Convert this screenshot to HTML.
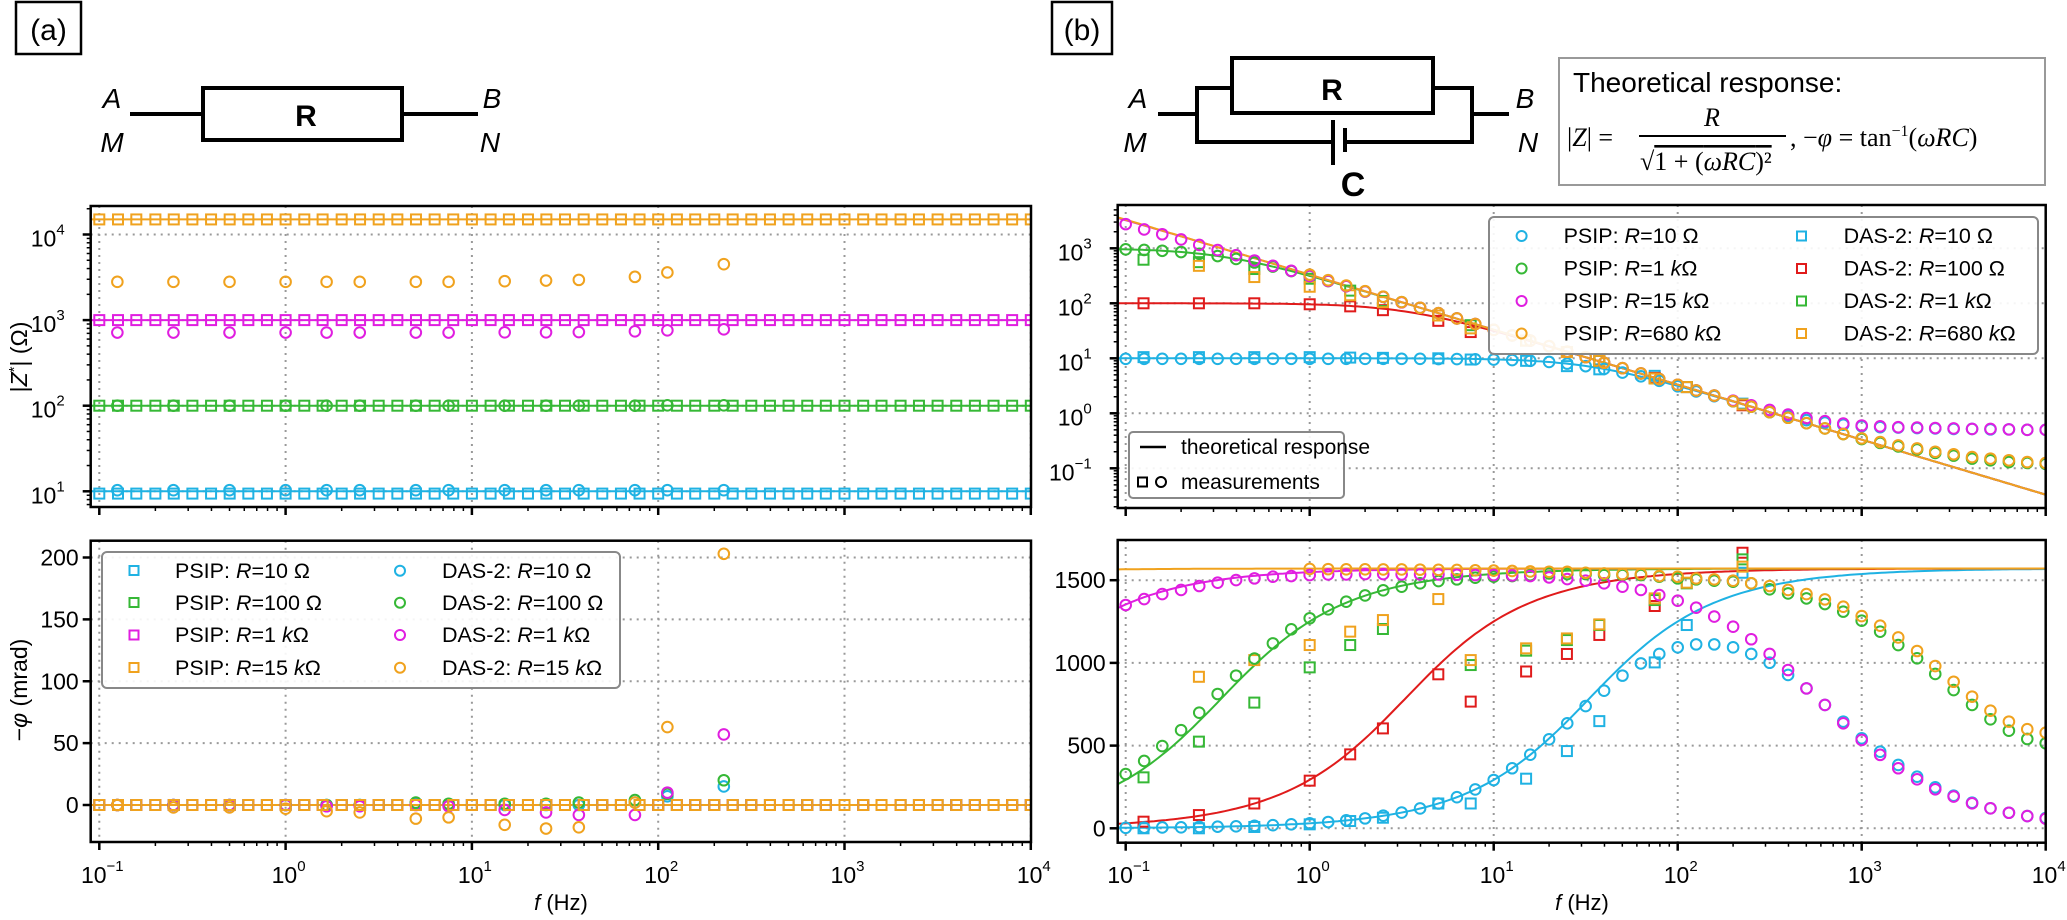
<!DOCTYPE html>
<html><head><meta charset="utf-8">
<style>
html,body{margin:0;padding:0;background:#fff;}
svg{display:block;font-family:"Liberation Sans",sans-serif;}
.serif{font-family:"Liberation Serif",serif;}
</style></head>
<body>
<svg id="fig" width="2067" height="920" viewBox="0 0 2067 920" xmlns="http://www.w3.org/2000/svg">
<defs>
<clipPath id="clipAm"><rect x="90.7" y="206" width="940.3" height="301"/></clipPath>
<clipPath id="clipAp"><rect x="90.7" y="540.7" width="940.3" height="301.3"/></clipPath>
<clipPath id="clipBm"><rect x="1117.7" y="205" width="928" height="303"/></clipPath>
<clipPath id="clipBp"><rect x="1117.7" y="540" width="928" height="302.7"/></clipPath>
</defs>

<g stroke="#000" stroke-width="4" fill="none">
  <rect x="16" y="2" width="65" height="52" stroke-width="2.5"/>
  <line x1="130" y1="114" x2="203" y2="114"/>
  <rect x="203" y="88" width="199" height="52"/>
  <line x1="402" y1="114" x2="478" y2="114"/>
</g>
<text x="48.5" y="40" font-size="30" text-anchor="middle">(a)</text>
<g font-size="28" font-style="italic" text-anchor="middle">
  <text x="112" y="108">A</text><text x="112" y="152">M</text>
  <text x="492" y="108">B</text><text x="490" y="152">N</text>
</g>
<text x="306" y="126" font-size="30" font-weight="bold" text-anchor="middle">R</text>

<g stroke="#000" stroke-width="4" fill="none">
  <rect x="1052" y="2" width="60" height="52" stroke-width="2.5"/>
  <line x1="1158" y1="114" x2="1197" y2="114"/>
  <polyline points="1232,88 1197,88 1197,142 1333,142"/>
  <rect x="1232" y="58" width="201" height="55"/>
  <polyline points="1433,88 1472,88 1472,142 1345,142"/>
  <line x1="1472" y1="114" x2="1509" y2="114"/>
  <line x1="1333" y1="120" x2="1333" y2="165"/>
  <line x1="1345" y1="128" x2="1345" y2="152"/>
  <rect x="1559" y="58" width="486" height="127" stroke="#999" stroke-width="2"/>
</g>
<text x="1082" y="40" font-size="30" text-anchor="middle">(b)</text>
<g font-size="28" font-style="italic" text-anchor="middle">
  <text x="1138" y="108">A</text><text x="1135" y="152">M</text>
  <text x="1525" y="108">B</text><text x="1528" y="152">N</text>
</g>
<text x="1332" y="100" font-size="30" font-weight="bold" text-anchor="middle">R</text>
<text x="1353" y="196" font-size="34" font-weight="bold" text-anchor="middle">C</text>
<text x="1573" y="92" font-size="28">Theoretical response:</text>
<g class="serif" font-size="26">
  <text x="1567" y="146">|<tspan font-style="italic">Z</tspan>| =</text>
  <text x="1712" y="126" text-anchor="middle" font-style="italic">R</text>
  <line x1="1639" y1="136" x2="1786" y2="136" stroke="#000" stroke-width="2"/>
  <text x="1640" y="170">√<tspan text-decoration="overline">1 + (<tspan font-style="italic">ωRC</tspan>)²</tspan></text>
  <text x="1790" y="146">, −<tspan font-style="italic">φ</tspan> = tan<tspan font-size="16" dy="-10">−1</tspan><tspan dy="10">(<tspan font-style="italic">ωRC</tspan>)</tspan></text>
</g>

<g id="axes"></g>
<g id="data"></g>

<text transform="translate(27,357) rotate(-90)" font-size="23" text-anchor="middle">|<tspan font-style="italic">Z</tspan><tspan font-size="15" dy="-8">*</tspan><tspan dy="8">| (Ω)</tspan></text>
<text transform="translate(27,690) rotate(-90)" font-size="23" text-anchor="middle">−<tspan font-style="italic">φ</tspan> (mrad)</text>
<text x="561" y="910" font-size="22" text-anchor="middle"><tspan font-style="italic">f</tspan> (Hz)</text>
<text x="1582" y="910" font-size="22" text-anchor="middle"><tspan font-style="italic">f</tspan> (Hz)</text>

<g font-size="21.5">
  <rect x="102" y="552" width="518" height="136" rx="5" fill="#fff" fill-opacity="0.9" stroke="#888" stroke-width="2"/>
  <g fill="none" stroke-width="2">
    <rect x="129.5" y="566" width="9" height="9" stroke="#1fb2e3"/>
    <rect x="129.5" y="598" width="9" height="9" stroke="#36b836"/>
    <rect x="129.5" y="630.5" width="9" height="9" stroke="#e01ee0"/>
    <rect x="129.5" y="663" width="9" height="9" stroke="#f0a21e"/>
    <circle cx="400" cy="570.7" r="5" stroke="#1fb2e3"/>
    <circle cx="400" cy="602.7" r="5" stroke="#36b836"/>
    <circle cx="400" cy="635" r="5" stroke="#e01ee0"/>
    <circle cx="400" cy="667.7" r="5" stroke="#f0a21e"/>
  </g>
  <text x="175" y="578">PSIP: <tspan font-style="italic">R</tspan>=10 Ω</text>
  <text x="175" y="610">PSIP: <tspan font-style="italic">R</tspan>=100 Ω</text>
  <text x="175" y="642">PSIP: <tspan font-style="italic">R</tspan>=1 <tspan font-style="italic">k</tspan>Ω</text>
  <text x="175" y="675">PSIP: <tspan font-style="italic">R</tspan>=15 <tspan font-style="italic">k</tspan>Ω</text>
  <text x="442" y="578">DAS-2: <tspan font-style="italic">R</tspan>=10 Ω</text>
  <text x="442" y="610">DAS-2: <tspan font-style="italic">R</tspan>=100 Ω</text>
  <text x="442" y="642">DAS-2: <tspan font-style="italic">R</tspan>=1 <tspan font-style="italic">k</tspan>Ω</text>
  <text x="442" y="675">DAS-2: <tspan font-style="italic">R</tspan>=15 <tspan font-style="italic">k</tspan>Ω</text>
</g>

<g font-size="21.5">
  <rect x="1489" y="217" width="549" height="137" rx="5" fill="#fff" fill-opacity="0.9" stroke="#888" stroke-width="2"/>
  <g fill="none" stroke-width="2">
    <circle cx="1521.6" cy="236" r="5" stroke="#1fb2e3"/>
    <circle cx="1521.6" cy="268.5" r="5" stroke="#36b836"/>
    <circle cx="1521.6" cy="301" r="5" stroke="#e01ee0"/>
    <circle cx="1521.6" cy="333.5" r="5" stroke="#f0a21e"/>
    <rect x="1797" y="231.5" width="9" height="9" stroke="#1fb2e3"/>
    <rect x="1797" y="264" width="9" height="9" stroke="#e01b1b"/>
    <rect x="1797" y="296.5" width="9" height="9" stroke="#36b836"/>
    <rect x="1797" y="329" width="9" height="9" stroke="#f0a21e"/>
  </g>
  <text x="1563.6" y="243">PSIP: <tspan font-style="italic">R</tspan>=10 Ω</text>
  <text x="1563.6" y="275.5">PSIP: <tspan font-style="italic">R</tspan>=1 <tspan font-style="italic">k</tspan>Ω</text>
  <text x="1563.6" y="308">PSIP: <tspan font-style="italic">R</tspan>=15 <tspan font-style="italic">k</tspan>Ω</text>
  <text x="1563.6" y="340.5">PSIP: <tspan font-style="italic">R</tspan>=680 <tspan font-style="italic">k</tspan>Ω</text>
  <text x="1843.6" y="243">DAS-2: <tspan font-style="italic">R</tspan>=10 Ω</text>
  <text x="1843.6" y="275.5">DAS-2: <tspan font-style="italic">R</tspan>=100 Ω</text>
  <text x="1843.6" y="308">DAS-2: <tspan font-style="italic">R</tspan>=1 <tspan font-style="italic">k</tspan>Ω</text>
  <text x="1843.6" y="340.5">DAS-2: <tspan font-style="italic">R</tspan>=680 <tspan font-style="italic">k</tspan>Ω</text>
</g>

<g font-size="21">
  <rect x="1129" y="432" width="215" height="66" rx="4" fill="#fff" fill-opacity="0.9" stroke="#888" stroke-width="2"/>
  <line x1="1140" y1="447" x2="1166" y2="447" stroke="#000" stroke-width="2.5"/>
  <rect x="1138" y="477.5" width="9" height="9" fill="none" stroke="#000" stroke-width="2"/>
  <circle cx="1161" cy="482" r="5" fill="none" stroke="#000" stroke-width="2"/>
  <text x="1181" y="454">theoretical response</text>
  <text x="1181" y="489">measurements</text>
</g>
</svg>

<script>
// ---------- data ----------
const colors = ['#1fb2e3','#36b836','#e01ee0','#f0a21e','#e01b1b'];
const freqPSIP = [0.1,0.126,0.158,0.2,0.251,0.316,0.398,0.501,0.631,0.794,1,1.26,1.58,2,2.51,3.16,3.98,5.01,6.31,7.94,10,12.6,15.8,20,25.1,31.6,39.8,50.1,63.1,79.4,100,126,158,200,251,316,398,501,631,794,1000,1260,1580,2000,2510,3160,3980,5010,6310,7940,10000];
const freqDAS = [0.125,0.25,0.5,1,1.66,2.5,5,7.5,15,25,37.5,75,112,225];

const aResist = [10,100,1000,15000];
const aPsipMag = [9.4,100,1000,15000];
const aPsipPhase = [0,0,0,0];
const aDasMagCyan = [10.3,10.3,10.3,10.3,10.3,10.3,10.3,10.3,10.3,10.3,10.3,10.3,10.3,10.3];
const aDasMagGreen = [100,100,100,100,100,100,100,100,100,100,100,100,101,101];
const aDasMagMagenta = [716,716,716,716,716,716,716,716,720,720,725,740,760,780];
const aDasMagOrange = [2800,2800,2800,2800,2800,2800,2800,2800,2850,2900,2950,3200,3600,4500];
const aDasPhCyan = [0,0,0,0,0,0,1,0,0,0,0,2,7,15];
const aDasPhGreen = [0,0,0,0,0,0,2,1,1,1,2,4,9,20];
const aDasPhMagenta = [0,0,0,0,-1,-1,0,-1,-4,-6,-8,-8,10,57];
const aDasPhOrange = [0,-2,-2,-3,-5,-6,-11,-10,-16,-19,-18,2,63,203];

const bResist = [10,100,1000,15000,680000];
const bCap = 4.8e-4;
const bPsipMagCyan = [9.8,9.8,9.8,9.8,9.8,9.8,9.8,9.8,9.8,9.8,9.8,9.8,9.8,9.8,9.8,9.8,9.8,9.7,9.7,9.6,9.5,9.3,9.0,8.6,8.0,7.2,6.4,5.5,4.7,3.9,3.1,2.5,2.05,1.65,1.32,1.05,0.9,0.75,0.68,0.62,0.58,0.56,0.55,0.54,0.53,0.52,0.52,0.51,0.51,0.5,0.5];
const bPsipMagGreen = [957,935,902,856,796,724,640,552,465,386,315,254,206,164,131,105,83,66,53,42,33,26,21,16.6,13.2,10.5,8.3,6.6,5.3,4.2,3.3,2.6,2.1,1.66,1.32,1.05,0.83,0.66,0.53,0.42,0.34,0.29,0.25,0.22,0.19,0.17,0.15,0.14,0.13,0.125,0.12];
const bPsipMagMagenta = [2750,2200,1800,1450,1150,930,750,600,480,390,315,255,205,164,131,104,83,66,53,42,33,26,21,16.6,13.2,10.5,8.3,6.6,5.3,4.2,3.3,2.6,2.1,1.7,1.4,1.15,0.95,0.82,0.72,0.65,0.6,0.58,0.56,0.55,0.54,0.53,0.52,0.52,0.51,0.5,0.5];
const bPsipMagOrange = [null,null,null,null,null,null,null,null,null,null,332,263,210,166,132,105,83,66,53,42,33,26,21,16.6,13.2,10.5,8.3,6.6,5.3,4.2,3.3,2.6,2.1,1.66,1.32,1.05,0.83,0.66,0.53,0.42,0.35,0.3,0.26,0.23,0.2,0.18,0.16,0.15,0.14,0.13,0.125];
const bPsipPhCyan = [3,4,5,6,8,10,12,15,19,24,30,38,48,60,76,95,120,150,188,235,292,363,445,538,635,739,832,923,997,1054,1094,1112,1112,1094,1054,1001,927,846,746,645,544,463,383,312,248,197,155,121,94,74,62];
const bPsipPhGreen = [328,407,497,593,699,812,923,1026,1118,1203,1270,1324,1370,1408,1439,1461,1481,1495,1505,1515,1521,1525,1530,1541,1537,1537,1531,1531,1531,1521,1511,1505,1497,1491,1481,1445,1420,1390,1356,1310,1255,1189,1108,1028,933,836,746,659,590,540,514];
const bPsipPhMagenta = [1350,1386,1416,1441,1465,1485,1501,1511,1521,1525,1531,1535,1535,1537,1537,1535,1535,1535,1533,1531,1531,1529,1525,1517,1507,1497,1481,1461,1441,1410,1376,1334,1280,1219,1143,1054,957,846,746,635,534,444,363,296,236,192,151,121,94,74,58];
const bPsipPhOrange = [null,null,null,null,null,null,null,null,null,null,1568,1567,1566,1566,1565,1565,1564,1563,1562,1560,1558,1556,1553,1551,1551,1545,1541,1537,1537,1525,1521,1511,1505,1497,1481,1465,1441,1416,1384,1340,1283,1225,1154,1072,981,886,796,711,645,599,578];
const bDasMagCyan = [10.5,10.5,10.5,10.5,10.3,10.2,10,9.5,9,7.2,6.3,4.8,3,1.5];
const bDasMagRed = [100,100,100,96,88,75,48,30,21,13,9,4.4,3,1.4];
const bDasMagGreen = [620,560,420,280,170,110,60,40,21,13,9,4.3,3,1.45];
const bDasMagOrange = [null,480,300,200,140,105,60,35,21,13,9,4.3,3,1.45];
const bDasPhCyan = [0,0,8,24,44,64,150,150,300,467,648,1003,1229,1545];
const bDasPhRed = [40,80,150,288,447,604,931,766,948,1054,1169,1344,null,1666];
const bDasPhGreen = [308,524,760,973,1108,1205,null,987,1074,1138,1229,1380,1481,1626];
const bDasPhOrange = [null,916,1017,1108,1189,1259,1386,1017,1088,1148,1233,1390,1485,1582];

const logDecadesX = [-1,0,1,2,3,4];
const aMagDecades = [1,2,3,4];
const bMagDecades = [-1,0,1,2,3];
const aPhaseTicks = [0,50,100,150,200];
const bPhaseTicks = [0,500,1000,1500];

function xA(f){return 99.3+(Math.log10(f)+1)*186.3;}
function xB(f){return 1125.7+(Math.log10(f)+1)*184;}
function yAm(v){return 234.5-(Math.log10(v)-4)*85.6;}
function yAp(v){return 805-v*1.2375;}
function yBm(v){return 248.3-(Math.log10(v)-3)*55;}
function yBp(v){return 828.3-v*0.1654;}

const NS='http://www.w3.org/2000/svg';
const axesG=document.getElementById('axes');
const dataG=document.getElementById('data');
function mk(tag,parent,attrs){const e=document.createElementNS(NS,tag);for(const k in attrs)e.setAttribute(k,attrs[k]);parent.appendChild(e);return e;}

function powLabel(parent,x,y,exp,anchor){
  const t=mk('text',parent,{x:x,y:y,'font-size':23,'text-anchor':anchor});
  
  
  t.appendChild(document.createTextNode('10'));
  const s=mk('tspan',t,{'font-size':15,dy:-12});
  s.textContent=String(exp).replace('-','−');
}

function drawPanel(box,xs,ylog,ys,yTicks,id){
  const g=mk('g',axesG,{});
  
  
  const bottom=box.y1, left=box.x0;
  logDecadesX.forEach(d=>{
    const x=xs(Math.pow(10,d));
    const l=mk('line',g,{x1:x,x2:x,y1:box.y0,y2:box.y1,stroke:'#999','stroke-width':2,'stroke-dasharray':'2 5'});
    
    
  });
  yTicks.forEach(v=>{
    const val=ylog?Math.pow(10,v):v;
    const y=ys(val);
    const l=mk('line',g,{x1:box.x0,x2:box.x1,y1:y,y2:y,stroke:'#999','stroke-width':2,'stroke-dasharray':'2 5'});
    
    
  });
  logDecadesX.forEach(d=>{
    const x=xs(Math.pow(10,d));
    const t=mk('line',g,{x1:x,x2:x,y1:bottom,y2:bottom+8,stroke:'#000','stroke-width':2.5});
    
    
    if(box.xlabels) powLabel(g,x+3,883,d,'middle');
    if(d<4) for(let m=2;m<=9;m++){
      const xm=xs(m*Math.pow(10,d));
      const tm=mk('line',g,{x1:xm,x2:xm,y1:bottom,y2:bottom+4,stroke:'#000','stroke-width':1.5});
      
      
    }
  });
  yTicks.forEach(v=>{
    const val=ylog?Math.pow(10,v):v;
    const y=ys(val);
    const t=mk('line',g,{x1:left-8,x2:left,y1:y,y2:y,stroke:'#000','stroke-width':2.5});
    
    
    if(ylog){ powLabel(g,left-26,y+12,v,'end'); }
    else {
      const tx=mk('text',g,{x:left-12,y:y+8,'font-size':23,'text-anchor':'end'});
      
      
      tx.textContent=String(v);
    }
  });
  if(ylog){
    for(let d=-3;d<=5;d++) for(let m=2;m<=9;m++){
      const val=m*Math.pow(10,d); const y=ys(val);
      if(y<box.y0+1||y>box.y1-1) continue;
      const tm=mk('line',g,{x1:left-4,x2:left,y1:y,y2:y,stroke:'#000','stroke-width':1.5});
      
      
    }
  }
}

const boxAm={x0:90.7,x1:1031,y0:206,y1:507,xlabels:false};
const boxAp={x0:90.7,x1:1031,y0:540.7,y1:842,xlabels:true};
const boxBm={x0:1117.7,x1:2045.7,y0:205,y1:508,xlabels:false};
const boxBp={x0:1117.7,x1:2045.7,y0:540,y1:842.7,xlabels:true};
drawPanel(boxAm,xA,true,yAm,aMagDecades,'panel-a-magnitude');
drawPanel(boxAp,xA,false,yAp,aPhaseTicks,'panel-a-phase');
drawPanel(boxBm,xB,true,yBm,bMagDecades,'panel-b-magnitude');
drawPanel(boxBp,xB,false,yBp,bPhaseTicks,'panel-b-phase');

function layer(clip,name){
  const g=mk('g',dataG,{'clip-path':'url(#'+clip+')'});
  
  
  return g;
}
function line(g,pts,color,name){
  const p=mk('polyline',g,{points:pts.map(q=>q[0].toFixed(1)+','+q[1].toFixed(1)).join(' '),fill:'none',stroke:color,'stroke-width':2});
  
  
}
function sq(g,x,y,color,name){
  const r=mk('rect',g,{x:x-5,y:y-5,width:10,height:10,fill:'none',stroke:color,'stroke-width':2});
  
  
}
function circ(g,x,y,color,name){
  const c=mk('circle',g,{cx:x,cy:y,r:5.3,fill:'none',stroke:color,'stroke-width':2});
  
  
}
const dense=[]; for(let i=0;i<=240;i++) dense.push(Math.pow(10,-1.1+i*5.1/240));

const gAm=layer('clipAm','panel-a-magnitude-data');
aResist.forEach((R,i)=>{
  line(gAm,dense.map(f=>[xA(f),yAm(R)]),colors[i],'theory-line-a-mag');
  freqPSIP.forEach(f=>sq(gAm,xA(f),yAm(aPsipMag[i]),colors[i],'psip-square-a-mag'));
});
[aDasMagCyan,aDasMagGreen,aDasMagMagenta,aDasMagOrange].forEach((arr,i)=>{
  arr.forEach((v,j)=>{ if(v!=null) circ(gAm,xA(freqDAS[j]),yAm(v),colors[i],'das-circle-a-mag'); });
});
const gAp=layer('clipAp','panel-a-phase-data');
aResist.forEach((R,i)=>{
  line(gAp,dense.map(f=>[xA(f),yAp(0)]),colors[i],'theory-line-a-phase');
});
[aDasPhCyan,aDasPhGreen,aDasPhMagenta,aDasPhOrange].forEach((arr,i)=>{
  arr.forEach((v,j)=>{ if(v!=null) circ(gAp,xA(freqDAS[j]),yAp(v),colors[i],'das-circle-a-phase'); });
});
aResist.forEach((R,i)=>{
  freqPSIP.forEach(f=>sq(gAp,xA(f),yAp(aPsipPhase[i]),colors[i],'psip-square-a-phase'));
});

const bColors=[colors[0],colors[4],colors[1],colors[2],colors[3]];
const gBm=layer('clipBm','panel-b-magnitude-data');
const gBp=layer('clipBp','panel-b-phase-data');
bResist.forEach((R,i)=>{
  const wrc=f=>2*Math.PI*f*R*bCap;
  line(gBm,dense.map(f=>[xB(f),yBm(R/Math.sqrt(1+wrc(f)*wrc(f)))]),bColors[i],'theory-line-b-mag');
  line(gBp,dense.map(f=>[xB(f),yBp(Math.atan(wrc(f))*1000)]),bColors[i],'theory-line-b-phase');
});
const dasColors=[colors[0],colors[4],colors[1],colors[3]];
[bDasMagCyan,bDasMagRed,bDasMagGreen,bDasMagOrange].forEach((arr,i)=>{
  arr.forEach((v,j)=>{ if(v!=null) sq(gBm,xB(freqDAS[j]),yBm(v),dasColors[i],'das-square-b-mag'); });
});
[bDasPhCyan,bDasPhRed,bDasPhGreen,bDasPhOrange].forEach((arr,i)=>{
  arr.forEach((v,j)=>{ if(v!=null) sq(gBp,xB(freqDAS[j]),yBp(v),dasColors[i],'das-square-b-phase'); });
});
const psipColors=[colors[0],colors[1],colors[2],colors[3]];
[bPsipMagCyan,bPsipMagGreen,bPsipMagMagenta,bPsipMagOrange].forEach((arr,i)=>{
  arr.forEach((v,j)=>{ if(v!=null) circ(gBm,xB(freqPSIP[j]),yBm(v),psipColors[i],'psip-circle-b-mag'); });
});
[bPsipPhCyan,bPsipPhGreen,bPsipPhMagenta,bPsipPhOrange].forEach((arr,i)=>{
  arr.forEach((v,j)=>{ if(v!=null) circ(gBp,xB(freqPSIP[j]),yBp(v),psipColors[i],'psip-circle-b-phase'); });
});

[boxAm,boxAp,boxBm,boxBp].forEach(b=>{
  const r=mk('rect',dataG,{x:b.x0,y:b.y0,width:b.x1-b.x0,height:b.y1-b.y0,fill:'none',stroke:'#000','stroke-width':2.5});
  
  
});
</script>
</body></html>
